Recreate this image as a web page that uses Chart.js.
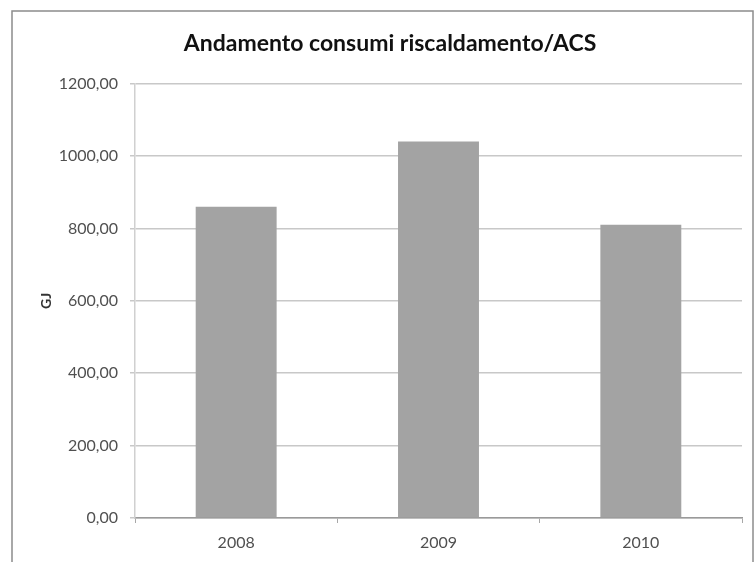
<!DOCTYPE html>
<html lang="it">
<head>
  <meta charset="UTF-8" />
  <title>Andamento consumi riscaldamento/ACS</title>
  <script src="https://cdn.jsdelivr.net/npm/chart.js"></script>
  <style>
    body {
      margin: 0;
      background: #fff;
    }
    #wrap {
      width: 755px;
      height: 562px;
    }
  </style>
</head>
<body>
  <div id="wrap">
    <canvas id="chart" width="755" height="562"></canvas>
  </div>

  <script>
    const years = ['2008', '2009', '2010'];
    const consumiGJ = [860, 1040, 810];
    const yTicks = [0, 200, 400, 600, 800, 1000, 1200];

    const fmt = v => v.toFixed(2).replace('.', ',');

    // cornice grigia attorno al grafico, come nel foglio Excel
    const frame = {
      id: 'frame',
      beforeDraw(chart) {
        const c = chart.ctx;
        c.save();
        c.fillStyle = '#fff';
        c.fillRect(0, 0, chart.width, chart.height);
        c.strokeStyle = '#8c8c8c';
        c.lineWidth = 1.5;
        c.strokeRect(12, 11, 741, 552);
        c.restore();
      }
    };

    const ctx = document.getElementById('chart').getContext('2d');
    const chart = new Chart(ctx, {
      type: 'bar',
      data: {
        labels: years,
        datasets: [{
          label: 'GJ',
          data: consumiGJ,
          backgroundColor: '#a3a3a3',
          borderWidth: 0,
          categoryPercentage: 1,
          barPercentage: 0.4
        }]
      },
      options: {
        responsive: false,
        animation: false,
        layout: { padding: { left: 38, right: 13, top: 0, bottom: 0 } },
        plugins: {
          legend: { display: false },
          tooltip: { enabled: false },
          title: {
            display: true,
            text: 'Andamento consumi riscaldamento/ACS',
            color: '#111',
            font: { family: 'Lato', size: 23, weight: 'bold' },
            padding: { top: 30, bottom: 26 }
          }
        },
        scales: {
          x: {
            afterFit(s) { s.height = 44; },
            grid: {
              offset: true,
              drawOnChartArea: false,
              drawTicks: true,
              tickLength: 5,
              color: '#a8a8a8'
            },
            border: { display: true, color: '#9a9a9a', width: 1.5 },
            ticks: {
              color: '#505050',
              padding: 10,
              font: { family: 'Lato', size: 16 }
            }
          },
          y: {
            min: 0,
            max: 1200,
            afterFit(s) { s.width = 97; },
            afterBuildTicks(s) { s.ticks = yTicks.map(v => ({ value: v })); },
            grid: {
              color: '#c8c8c8',
              lineWidth: 1.5,
              tickLength: 5
            },
            border: { display: true, color: '#d0d0d0', width: 1.5 },
            ticks: {
              color: '#505050',
              padding: 12,
              font: { family: 'Lato', size: 16 },
              callback: v => fmt(v)
            },
            title: {
              display: true,
              text: 'GJ',
              color: '#333',
              padding: { top: 0, bottom: 0 },
              font: { family: 'Lato', size: 14, weight: 'bold' }
            }
          }
        }
      },
      plugins: [frame]
    });
  </script>
</body>
</html>
